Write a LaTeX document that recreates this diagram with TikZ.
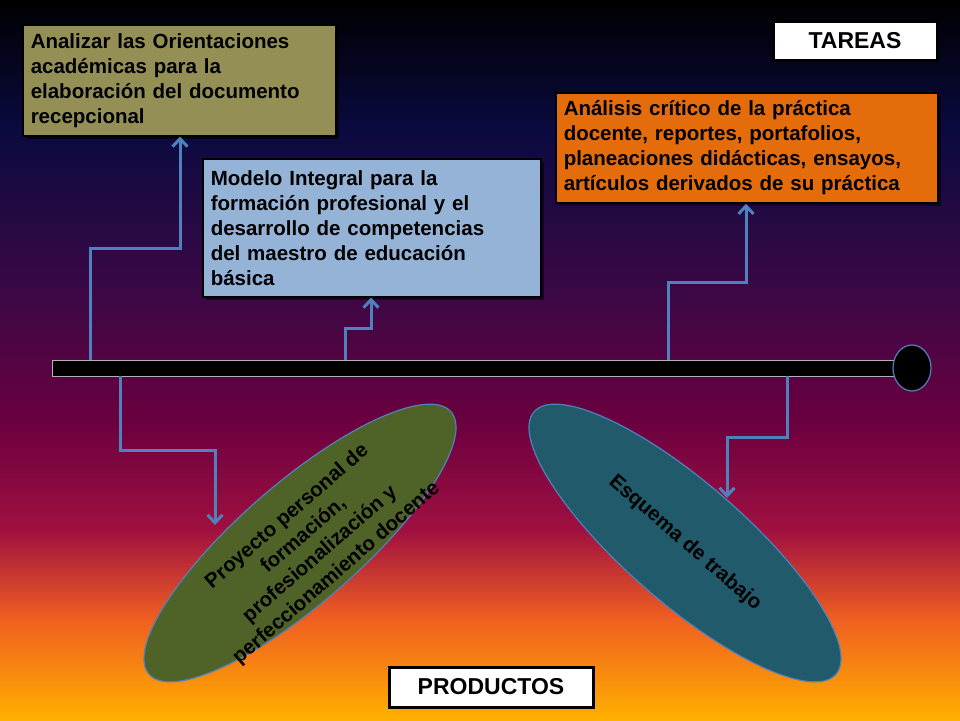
\documentclass[tikz,border=0pt]{standalone}
\usepackage{fontspec}
\setmainfont{Liberation Sans}
\usetikzlibrary{arrows.meta, positioning, calc, shadows, shapes.geometric}
\definecolor{olivebox}{HTML}{938F55}
\definecolor{bluebox}{HTML}{95B3D7}
\definecolor{orangebox}{HTML}{E46C0A}
\definecolor{lineblue}{HTML}{4F81BD}
\definecolor{greenell}{HTML}{4F6228}
\definecolor{tealell}{HTML}{215A6B}
\definecolor{fondoA}{HTML}{000000}
\definecolor{fondoB}{HTML}{0A0A40}
\definecolor{fondoC}{HTML}{3A0845}
\definecolor{fondoD}{HTML}{6A0040}
\definecolor{fondoE}{HTML}{A01040}
\definecolor{fondoF}{HTML}{F06020}
\definecolor{fondoG}{HTML}{FFB000}
\tikzset{
  tarea/.style={draw=black, line width=1.5pt, text=black, align=left,
    font=\bfseries\fontsize{20.5}{25}\selectfont, inner sep=8pt,
    drop shadow={shadow xshift=3pt, shadow yshift=-3pt, fill=black}},
  etiqueta/.style={draw=black, fill=white, line width=3pt,
    font=\bfseries\fontsize{23}{26}\selectfont, inner sep=0pt},
  flecha/.style={draw=lineblue, line width=3pt, -{Straight Barb[length=8pt,width=15pt,line width=3pt]}},
  producto/.style={ellipse, draw=lineblue, line width=1.2pt, minimum width=400pt, minimum height=120pt},
  rotulo/.style={align=center, font=\bfseries\fontsize{20.5}{25}\selectfont}
}
\begin{document}
\begin{tikzpicture}[x=1pt, y=-1pt]
% fondo degradado
\fill[top color=fondoA, bottom color=fondoB] (0,0) rectangle (960,130);
\fill[top color=fondoB, bottom color=fondoC] (0,130) rectangle (960,290);
\fill[top color=fondoC, bottom color=fondoD] (0,290) rectangle (960,420);
\fill[top color=fondoD, bottom color=fondoE] (0,420) rectangle (960,530);
\fill[top color=fondoE, bottom color=fondoF] (0,530) rectangle (960,620);
\fill[top color=fondoF, bottom color=fondoG] (0,620) rectangle (960,720);
\useasboundingbox (0,0) rectangle (960,720);

% cajas de tareas
\node[tarea, fill=olivebox, minimum width=313pt, minimum height=111pt, text width=297pt,
  anchor=north west] (orient) at (22,24)
  {Analizar las Orientaciones\\académicas para la\\elaboración del documento\\recepcional};
\node[tarea, fill=bluebox, minimum width=338pt, minimum height=138pt, text width=322pt,
  anchor=north west] (modelo) at (202,158)
  {Modelo Integral para la\\formación profesional y el\\desarrollo de competencias\\del maestro de educación\\básica};
\node[tarea, fill=orangebox, minimum width=382pt, minimum height=110pt, text width=366pt,
  anchor=north west] (analisis) at (555,92)
  {Análisis crítico de la práctica\\docente, reportes, portafolios,\\planeaciones didácticas, ensayos,\\artículos derivados de su práctica};

% etiquetas
\node[etiqueta, minimum width=164pt, minimum height=39pt] (tareas) at (855,41) {TAREAS};
\node[etiqueta, minimum width=204pt, minimum height=40pt] (productos) at (491,687) {PRODUCTOS};

% productos
\node[producto, fill=greenell, rotate=41] (proyecto) at (300,543) {};
\node[rotulo, rotate=41] at ($(proyecto.center)+(12,2)$)
  {Proyecto personal de\\formación,\\profesionalización y\\perfeccionamiento docente};
\node[producto, fill=tealell, rotate=-41] (esquema) at (685,543) {};
\node[rotulo, rotate=-41] at (esquema.center) {Esquema de trabajo};

% linea de tiempo
\draw[fill=black, draw=gray!60, line width=1pt] (52,360) rectangle (897,376);
\node[ellipse, fill=black, draw=lineblue, line width=1.2pt, minimum width=38pt, minimum height=46pt] (fin) at (912,368) {};

% flechas
\draw[flecha] (90,360) |- (180,248) -- (orient.south -| 180,0);
\draw[flecha] (345,360) |- (371,328) -- (modelo.south -| 371,0);
\draw[flecha] (668,360) |- (746,282) -- (analisis.south -| 746,0);
\draw[flecha] (120,376) |- (215,450) -- (215,525);
\draw[flecha] (787,376) |- (727,437) -- (727,498);
\end{tikzpicture}
\end{document}
